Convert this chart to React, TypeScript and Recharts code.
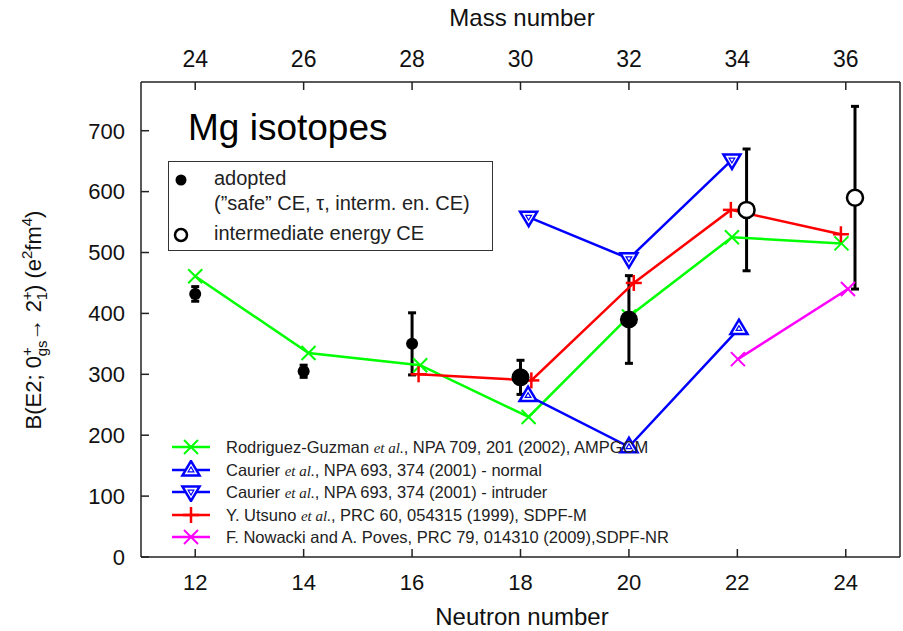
import { ComposedChart, ErrorBar, Scatter, XAxis, YAxis } from "recharts";

const nTicks = [12, 14, 16, 18, 20, 22, 24];
const bTicks = [0, 100, 200, 300, 400, 500, 600, 700];

// adopted B(E2) values (filled dots)
const adoptedN = [12, 14, 16, 18, 20];
const adoptedB = [432, 305, 350, 295, 390];
const adoptedErr = [12, 10, 51, 28, 72];

// intermediate energy CE (open dots), plotted slightly right of the integer N
const interN = [22.17, 24.17];
const interB = [570, 590];
const interErr = [100, 150];

// theory curves
const rgN = [12, 14.09, 16.15, 18.15, 20, 21.9, 23.92];
const rgB = [461, 335, 315, 230, 395, 525, 515];
const normalN = [18.14, 20, 22.03];
const normalB = [265, 181, 375];
const intruderN = [18.15, 20, 21.9];
const intruderB = [558, 490, 652];
const utsunoN = [16.12, 18.2, 20.09, 21.88, 23.91];
const utsunoB = [300, 290, 450, 570, 530];
const nowackiN = [22.01, 24.04];
const nowackiB = [325, 440];

const pts = (ns: number[], bs: number[], es?: number[]) =>
  ns.map((n, i) => ({ n, b: bs[i], e: es ? es[i] : 0 }));

const GREEN = "#00ff00";
const BLUE = "#0000ff";
const RED = "#ff0000";
const MAGENTA = "#ff00ff";
const AXIS = "#222";
const FONT = "'Liberation Sans', Arial, sans-serif";

type P = { cx?: number; cy?: number; payload?: { n: number } };

const xMark = (c: string, s = 7) => (p: P) => {
  const { cx = 0, cy = 0 } = p;
  return (
    <g stroke={c} strokeWidth={2}>
      <line x1={cx - s} y1={cy - s} x2={cx + s} y2={cy + s} />
      <line x1={cx - s} y1={cy + s} x2={cx + s} y2={cy - s} />
    </g>
  );
};

const plusMark = (c: string, s = 8) => (p: P) => {
  const { cx = 0, cy = 0 } = p;
  return (
    <g stroke={c} strokeWidth={2.5}>
      <line x1={cx - s} y1={cy} x2={cx + s} y2={cy} />
      <line x1={cx} y1={cy - s} x2={cx} y2={cy + s} />
    </g>
  );
};

const triMark = (c: string, up: boolean) => (p: P) => {
  const { cx = 0, cy = 0 } = p;
  const d = up ? 1 : -1;
  const tri = (s: number) =>
    `${cx},${cy - d * s} ${cx - s * 0.95},${cy + d * s * 0.6} ${cx + s * 0.95},${cy + d * s * 0.6}`;
  return (
    <g stroke={c} fill="#fff">
      <polygon points={tri(9)} strokeWidth={2.5} />
      <polygon points={tri(3)} strokeWidth={1.2} />
    </g>
  );
};

const filledDot = (p: P) => {
  const { cx = 0, cy = 0, payload } = p;
  const r = payload && payload.n >= 18 ? 9 : 6;
  return <circle cx={cx} cy={cy} r={r} fill="#000" />;
};

const openDot = (p: P) => {
  const { cx = 0, cy = 0 } = p;
  return <circle cx={cx} cy={cy} r={8} fill="#fff" stroke="#000" strokeWidth={2.5} />;
};

const nothing = () => <g />;

const theory = [
  { key: "rg", data: pts(rgN, rgB), color: GREEN, shape: xMark(GREEN) },
  { key: "normal", data: pts(normalN, normalB), color: BLUE, shape: triMark(BLUE, true) },
  { key: "intruder", data: pts(intruderN, intruderB), color: BLUE, shape: triMark(BLUE, false) },
  { key: "utsuno", data: pts(utsunoN, utsunoB), color: RED, shape: plusMark(RED) },
  { key: "nowacki", data: pts(nowackiN, nowackiB), color: MAGENTA, shape: xMark(MAGENTA) },
];

const EtAl = () => (
  <i style={{ fontFamily: "'Liberation Serif', serif", fontSize: 15 }}>et al.</i>
);

const legendRows = [
  { color: GREEN, mark: "x", text: <>Rodriguez-Guzman <EtAl />, NPA 709, 201 (2002), AMPGCM</> },
  { color: BLUE, mark: "up", text: <>Caurier <EtAl />, NPA 693, 374 (2001) - normal</> },
  { color: BLUE, mark: "down", text: <>Caurier <EtAl />, NPA 693, 374 (2001) - intruder</> },
  { color: RED, mark: "plus", text: <>Y. Utsuno <EtAl />, PRC 60, 054315 (1999), SDPF-M</> },
  { color: MAGENTA, mark: "x", text: <>F. Nowacki and A. Poves, PRC 79, 014310 (2009),SDPF-NR</> },
];

function LegendMark({ color, mark }: { color: string; mark: string }) {
  const p = { cx: 20, cy: 10 };
  const shape =
    mark === "x"
      ? xMark(color)(p)
      : mark === "plus"
      ? plusMark(color)(p)
      : triMark(color, mark === "up")(p);
  return (
    <svg width={40} height={20} style={{ position: "absolute", left: 0, top: 0 }}>
      <line x1={1} y1={10} x2={39} y2={10} stroke={color} strokeWidth={2.5} />
      {shape}
    </svg>
  );
}

const tickLine = { stroke: AXIS, strokeWidth: 1.5 };
const axisLine = { stroke: AXIS, strokeWidth: 1.5 };

export default function App() {
  const adopted = pts(adoptedN, adoptedB, adoptedErr);
  const inter = pts(interN, interB, interErr);

  return (
    <div
      style={{
        position: "absolute",
        left: 0,
        top: 0,
        width: 903,
        height: 631,
        background: "#fff",
        fontFamily: FONT,
        color: "#222",
      }}
    >
      <ComposedChart width={903} height={631} margin={{ top: 0, right: 0, bottom: 0, left: 0 }}>
        <XAxis
          xAxisId="b"
          type="number"
          dataKey="n"
          domain={[11, 25]}
          ticks={nTicks}
          interval={0}
          allowDataOverflow
          height={74}
          tickSize={-8}
          tickMargin={25}
          axisLine={axisLine}
          tickLine={tickLine}
          tick={{ fill: "#111", fontSize: 22 }}
        />
        <XAxis
          xAxisId="t"
          orientation="top"
          type="number"
          dataKey="n"
          domain={[11, 25]}
          ticks={nTicks}
          interval={0}
          allowDataOverflow
          height={82}
          tickSize={-8}
          tickMargin={23}
          axisLine={axisLine}
          tickLine={tickLine}
          tickFormatter={(v: number) => String(v + 12)}
          tick={{ fill: "#111", fontSize: 23, fontFamily: "'Liberation Sans Narrow', " + FONT }}
        />
        <YAxis
          yAxisId="l"
          type="number"
          dataKey="b"
          domain={[0, 780]}
          ticks={bTicks}
          interval={0}
          allowDataOverflow
          width={141}
          tickSize={-8}
          tickMargin={24}
          axisLine={axisLine}
          tickLine={tickLine}
          tick={{ fill: "#111", fontSize: 22 }}
        />
        <YAxis
          yAxisId="r"
          orientation="right"
          type="number"
          dataKey="b"
          domain={[0, 780]}
          ticks={bTicks}
          interval={0}
          allowDataOverflow
          width={3}
          tickSize={-8}
          axisLine={axisLine}
          tickLine={tickLine}
          tick={false}
        />
        <Scatter xAxisId="t" yAxisId="r" data={adopted} shape={nothing} isAnimationActive={false} />
        {theory.map((s) => (
          <Scatter
            key={s.key}
            xAxisId="b"
            yAxisId="l"
            data={s.data}
            line={{ stroke: s.color, strokeWidth: 2.5 }}
            shape={s.shape}
            isAnimationActive={false}
          />
        ))}
        <Scatter xAxisId="b" yAxisId="l" data={adopted} shape={filledDot} isAnimationActive={false}>
          <ErrorBar dataKey="e" direction="y" width={4} strokeWidth={3} stroke="#000" />
        </Scatter>
        <Scatter xAxisId="b" yAxisId="l" data={inter} shape={nothing} isAnimationActive={false}>
          <ErrorBar dataKey="e" direction="y" width={4} strokeWidth={3} stroke="#000" />
        </Scatter>
        <Scatter xAxisId="b" yAxisId="l" data={inter} shape={openDot} isAnimationActive={false} />
      </ComposedChart>

      {/* axis titles */}
      <div
        style={{
          position: "absolute",
          left: 420,
          width: 204,
          top: 4,
          textAlign: "center",
          fontSize: 24,
          lineHeight: "28px",
          fontFamily: "'Liberation Sans Narrow', " + FONT,
          color: "#111",
        }}
      >
        Mass number
      </div>
      <div
        style={{
          position: "absolute",
          left: 400,
          width: 244,
          top: 603,
          textAlign: "center",
          fontSize: 24,
          lineHeight: "28px",
          color: "#111",
        }}
      >
        Neutron number
      </div>
      <svg width={903} height={631} style={{ position: "absolute", left: 0, top: 0, pointerEvents: "none" }}>
        <text
          transform="translate(41,320) rotate(-90)"
          textAnchor="middle"
          fontSize={22}
          fill="#111"
          fontFamily={FONT}
        >
          B(E2; 0
          <tspan fontSize={15} dy={-9}>+</tspan>
          <tspan fontSize={15} dx={-9} dy={15}>gs</tspan>
          <tspan dy={-6}>→ 2</tspan>
          <tspan fontSize={15} dy={-9}>+</tspan>
          <tspan fontSize={15} dx={-9} dy={15}>1</tspan>
          <tspan dy={-6}>) (e</tspan>
          <tspan fontSize={15} dy={-9}>2</tspan>
          <tspan dy={9}>fm</tspan>
          <tspan fontSize={15} dy={-9}>4</tspan>
          <tspan dy={9}>)</tspan>
        </text>
      </svg>

      {/* title */}
      <div style={{ position: "absolute", left: 188, top: 106, fontSize: 37, lineHeight: "44px", color: "#000" }}>
        Mg isotopes
      </div>

      {/* experimental legend */}
      <div
        style={{
          position: "absolute",
          left: 168,
          top: 161,
          width: 323,
          height: 88,
          border: "1.5px solid #333",
          background: "#fff",
          fontSize: 20,
          lineHeight: "24px",
        }}
      >
        <svg width={30} height={90} style={{ position: "absolute", left: 0, top: 0 }}>
          <circle cx={12} cy={18} r={5.5} fill="#000" />
          <circle cx={12} cy={73} r={6} fill="#fff" stroke="#000" strokeWidth={2.5} />
        </svg>
        <div style={{ position: "absolute", left: 45, top: 4 }}>adopted</div>
        <div style={{ position: "absolute", left: 45, top: 29, whiteSpace: "nowrap" }}>
          (”safe” CE, τ, interm. en. CE)
        </div>
        <div style={{ position: "absolute", left: 45, top: 59, whiteSpace: "nowrap" }}>
          intermediate energy CE
        </div>
      </div>

      {/* theory legend */}
      {legendRows.map((r, i) => (
        <div
          key={i}
          style={{
            position: "absolute",
            left: 171,
            top: 437 + i * 22.5,
            height: 20,
            width: 600,
            fontSize: 16.5,
            lineHeight: "20px",
            whiteSpace: "nowrap",
          }}
        >
          <LegendMark color={r.color} mark={r.mark} />
          <span style={{ position: "absolute", left: 55, top: 0 }}>{r.text}</span>
        </div>
      ))}
    </div>
  );
}
